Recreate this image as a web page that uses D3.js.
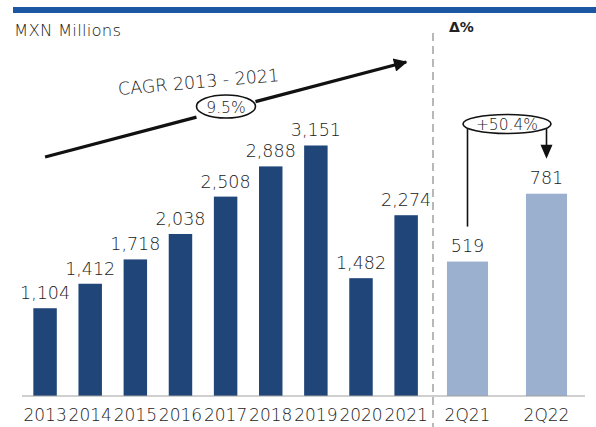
<!DOCTYPE html>
<html>
<head>
<meta charset="utf-8">
<script src="https://cdn.jsdelivr.net/npm/d3@7/dist/d3.min.js"></script>
<style>
  html, body { margin: 0; padding: 0; background: #fff; }
  svg { display: block; }
  text { font-family: "DejaVu Sans", sans-serif; fill: #1a1a1a; }
</style>
</head>
<body>
<svg id="chart" width="596" height="427"></svg>
<script>
// Annual revenue, MXN millions
const years = ["2013", "2014", "2015", "2016", "2017", "2018", "2019", "2020", "2021"];
const annualValues = [1104, 1412, 1718, 2038, 2508, 2888, 3151, 1482, 2274];

// Quarter comparison
const quarters = ["2Q21", "2Q22"];
const quarterValues = [519, 781];

const unitLabel = "MXN Millions";
const deltaLabel = "Δ%";
const cagrLabel = "CAGR 2013 - 2021";
const cagrValue = "9.5%";
const quarterGrowth = "+50.4%";

const W = 596, H = 427;
const baseY = 396;
const dark = "#1f4579", light = "#9bb0cf";
const fmt = d3.format(",");
const thin = 300;

const svg = d3.select("#chart");

// header rule
svg.append("rect").attr("x", 13).attr("y", 7).attr("width", W - 13).attr("height", 6)
  .attr("fill", "#1b57a2");

svg.append("text").attr("x", 14).attr("y", 36).attr("font-size", 16.5)
  .attr("font-weight", thin).attr("letter-spacing", 0.2).text(unitLabel);

// scales
const xL = d3.scaleBand().domain(years).range([22.5, 428.7]).paddingInner(0.48).paddingOuter(0.24);
const yL = d3.scaleLinear().domain([0, 4000]).range([baseY, baseY - 318]);
const xR = d3.scaleBand().domain(quarters).range([428, 586]).paddingInner(0.48).paddingOuter(0.24);
const yR = d3.scaleLinear().domain([0, 1000]).range([baseY, baseY - 259]);

// divider between annual and quarterly panels
svg.append("line").attr("x1", 433).attr("x2", 433).attr("y1", 33).attr("y2", H)
  .attr("stroke", "#b8b8b8").attr("stroke-width", 2).attr("stroke-dasharray", "8,5");

svg.append("text").attr("x", 449).attr("y", 32).attr("font-size", 14)
  .attr("font-weight", "bold").style("fill", "#222").text(deltaLabel);

// annual bars
svg.append("g").selectAll("rect").data(years).join("rect")
  .attr("x", d => xL(d)).attr("width", xL.bandwidth())
  .attr("y", (d, i) => yL(annualValues[i])).attr("height", (d, i) => baseY - yL(annualValues[i]))
  .attr("fill", dark);

svg.append("g").selectAll("text").data(years).join("text")
  .attr("x", d => xL(d) + xL.bandwidth() / 2)
  .attr("y", (d, i) => yL(annualValues[i]) - 9)
  .attr("text-anchor", "middle").attr("font-size", 17.5).attr("font-weight", thin)
  .text((d, i) => fmt(annualValues[i]));

// quarterly bars
svg.append("g").selectAll("rect").data(quarters).join("rect")
  .attr("x", d => xR(d)).attr("width", xR.bandwidth())
  .attr("y", (d, i) => yR(quarterValues[i])).attr("height", (d, i) => baseY - yR(quarterValues[i]))
  .attr("fill", light);

svg.append("g").selectAll("text").data(quarters).join("text")
  .attr("x", d => xR(d) + xR.bandwidth() / 2)
  .attr("y", (d, i) => yR(quarterValues[i]) - 10)
  .attr("text-anchor", "middle").attr("font-size", 17.5).attr("font-weight", thin)
  .text((d, i) => fmt(quarterValues[i]));

// baseline
svg.append("line").attr("x1", 22).attr("x2", 585).attr("y1", baseY).attr("y2", baseY)
  .attr("stroke", "#a0a0a0").attr("stroke-width", 1.2);

// category axes
const axisL = d3.axisBottom(xL).tickSize(0).tickPadding(0);
const axisR = d3.axisBottom(xR).tickSize(0).tickPadding(0);
[axisL, axisR].forEach(ax => {
  const g = svg.append("g").attr("transform", `translate(0,${baseY})`).call(ax);
  g.select(".domain").remove();
  g.selectAll("text").attr("y", 24.5).attr("dy", 0).attr("font-size", 17)
    .attr("font-family", "DejaVu Sans, sans-serif").attr("font-weight", thin)
    .attr("letter-spacing", 0).style("fill", "#1a1a1a");
});

// arrowhead for the trend line
const defs = svg.append("defs");
defs.append("marker").attr("id", "head").attr("viewBox", "0 0 10 10")
  .attr("refX", 9).attr("refY", 5).attr("markerWidth", 5).attr("markerHeight", 4.2)
  .attr("orient", "auto").attr("markerUnits", "strokeWidth")
  .append("path").attr("d", "M0,0L10,5L0,10Z").attr("fill", "#111");

// CAGR trend arrow
const ax0 = xL(years[0]) + xL.bandwidth() / 2, ay0 = 157;
const ax1 = xL(years[years.length - 1]) + xL.bandwidth() / 2, ay1 = 62;
const ellCx = 226, ellCy = 106.5, ellRx = 29.5, ellRy = 11.5;
const along = t => [ax0 + (ax1 - ax0) * t, ay0 + (ay1 - ay0) * t];
const tIn = (ellCx - ellRx - ax0) / (ax1 - ax0);
const tOut = (ellCx + ellRx - ax0) / (ax1 - ax0);
const p1 = along(tIn), p2 = along(tOut);
svg.append("line").attr("x1", ax0).attr("y1", ay0).attr("x2", p1[0]).attr("y2", p1[1])
  .attr("stroke", "#111").attr("stroke-width", 3.2);
svg.append("line").attr("x1", p2[0]).attr("y1", p2[1]).attr("x2", ax1).attr("y2", ay1)
  .attr("stroke", "#111").attr("stroke-width", 3.2).attr("marker-end", "url(#head)");
svg.append("ellipse").attr("cx", ellCx).attr("cy", ellCy).attr("rx", ellRx).attr("ry", ellRy)
  .attr("fill", "#fff").attr("stroke", "#111").attr("stroke-width", 1.6);
svg.append("text").attr("x", ellCx).attr("y", ellCy + 6).attr("text-anchor", "middle")
  .attr("font-size", 15.5).attr("font-weight", thin).text(cagrValue);
svg.append("text").attr("transform", "translate(199,88) rotate(-5)")
  .attr("text-anchor", "middle").attr("font-size", 17.5).attr("font-weight", thin).text(cagrLabel);

// quarterly growth callout
const qx0 = xR(quarters[0]) + xR.bandwidth() / 2;
const qx1 = xR(quarters[1]) + xR.bandwidth() / 2;
const gCx = (qx0 + qx1) / 2, gCy = 124;
svg.append("line").attr("x1", qx0).attr("x2", qx0).attr("y1", gCy).attr("y2", yR(quarterValues[0]) - 35)
  .attr("stroke", "#111").attr("stroke-width", 1.6);
svg.append("line").attr("x1", qx1).attr("x2", qx1).attr("y1", gCy).attr("y2", yR(quarterValues[1]) - 48)
  .attr("stroke", "#111").attr("stroke-width", 1.6);
svg.append("path")
  .attr("d", `M${qx1 - 6},${yR(quarterValues[1]) - 49}L${qx1 + 6},${yR(quarterValues[1]) - 49}L${qx1},${yR(quarterValues[1]) - 35}Z`)
  .attr("fill", "#111");
svg.append("ellipse").attr("cx", gCx).attr("cy", gCy).attr("rx", 44).attr("ry", 9.5)
  .attr("fill", "#fff").attr("stroke", "#111").attr("stroke-width", 1.6);
svg.append("text").attr("x", gCx).attr("y", gCy + 5.5).attr("text-anchor", "middle")
  .attr("font-size", 15.5).attr("font-weight", thin).text(quarterGrowth);
</script>
</body>
</html>
